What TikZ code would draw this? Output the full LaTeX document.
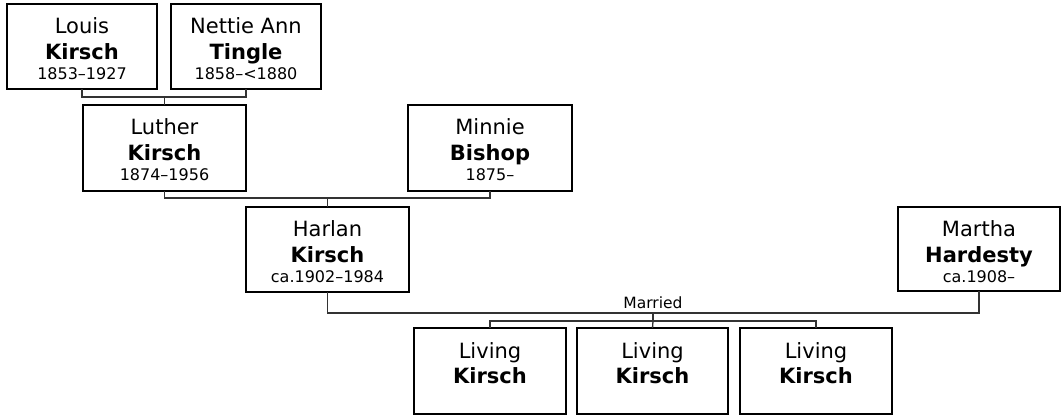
\documentclass[tikz,border=0pt]{standalone}
\usepackage{fontspec}
\setmainfont{DejaVu Sans}
\newcommand{\cbox}[3]{%
  \begin{minipage}[t][#1pt][t]{#2pt}\centering
  {\fontsize{21}{25}\selectfont\rule{0pt}{30pt}Living\par\textbf{#3}\par}%
  \end{minipage}}
\newcommand{\ptext}[5]{%
  \begin{minipage}[t][#2pt][t]{#1pt}\centering
  {\fontsize{21}{26}\selectfont\rule{0pt}{29.5pt}#3\par\textbf{#4}\par}%
  {\fontsize{16}{20}\selectfont #5\par}%
  \end{minipage}}
\begin{document}
\begin{tikzpicture}[x=1pt,y=-1pt,
  person/.style={draw=black, line width=1.3pt, inner sep=0pt, outer sep=0pt, fill=white},
  link/.style={draw=black!80, line width=1.3pt}]
\useasboundingbox (0,0) rectangle (1062,417);
% people
\node[person] (louis)  at (82,46.5)   {\ptext{150}{85}{Louis}{Kirsch}{1853–1927}};
\node[person] (nettie) at (246,46.5)  {\ptext{150}{85}{Nettie Ann}{Tingle}{1858–<1880}};
\node[person] (luther) at (164.5,148) {\ptext{163}{86}{Luther}{Kirsch}{1874–1956}};
\node[person] (minnie) at (490,148)   {\ptext{164}{86}{Minnie}{Bishop}{1875–}};
\node[person] (harlan) at (327.5,249.5) {\ptext{163}{85}{Harlan}{Kirsch}{ca.1902–1984}};
\node[person] (martha) at (979,249)   {\ptext{162}{84}{Martha}{Hardesty}{ca.1908–}};
\node[person] (k1) at (490,371)   {\cbox{86}{152}{Kirsch}};
\node[person] (k2) at (652.5,371) {\cbox{86}{151}{Kirsch}};
\node[person] (k3) at (816,371)   {\cbox{86}{152}{Kirsch}};
% junction points
\coordinate (j1) at (164.5,97);
\coordinate (j2) at (327.5,198);
\coordinate (j3) at (653,313);
\coordinate (j4) at (653,321);
% connectors
\draw[link] (louis.south) |- (j1) -| (nettie.south);
\draw[link] (j1) -- (luther.north);
\draw[link] (luther.south) |- (j2) -| (minnie.south);
\draw[link] (j2) -- (harlan.north);
\draw[link] (harlan.south) |- (j3) -| (martha.south);
\node[anchor=south, inner sep=0pt, font=\fontsize{15.5}{18}\selectfont] (married) at ([yshift=4pt]j3) {Married};
\draw[link] (j3) -- (j4);
\draw[link] (k1.north) |- (j4) -| (k3.north);
\draw[link] (j4) -- (k2.north);
\end{tikzpicture}
\end{document}
